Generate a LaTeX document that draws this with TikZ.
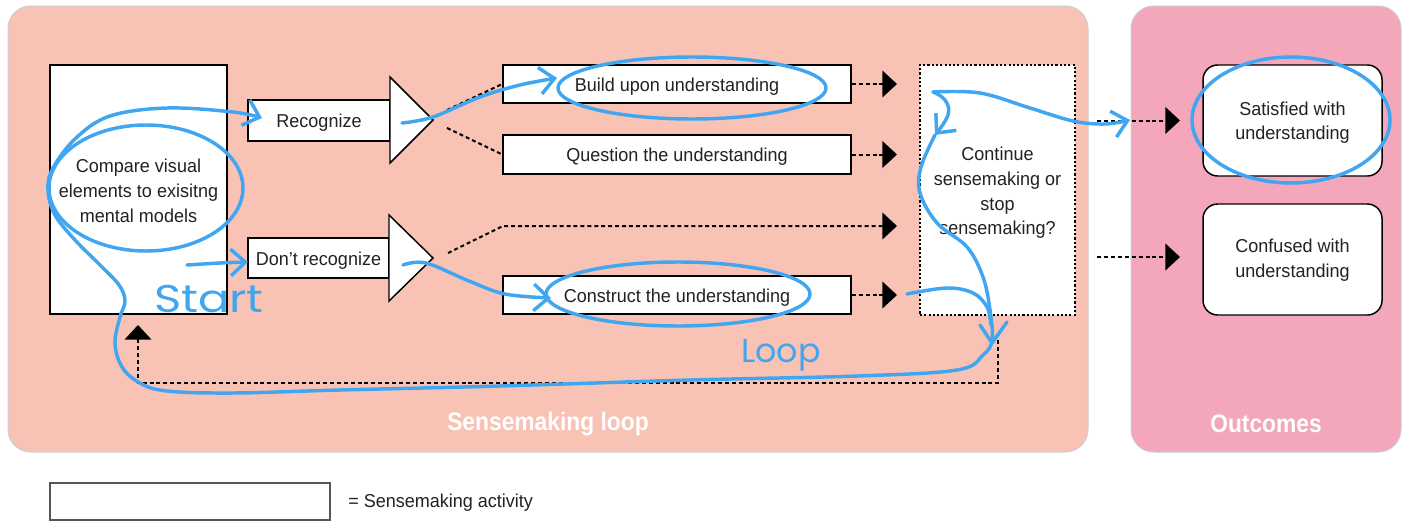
\documentclass[tikz,border=0pt]{standalone}
\usepackage{fontspec}
\setmainfont{Liberation Sans}[FakeStretch=0.965]
\newfontfamily\panelfont{Liberation Sans}[FakeStretch=0.9]
\newfontfamily\handfont{Poppins}
\usetikzlibrary{arrows.meta}
\definecolor{loopbg}{RGB}{248,195,181}
\definecolor{outbg}{RGB}{244,166,186}
\definecolor{pen}{RGB}{64,166,242}
\definecolor{ink}{RGB}{34,34,34}
\definecolor{panelline}{RGB}{205,205,205}
\definecolor{legendline}{RGB}{85,85,85}
% taller first line, so that a stacked text sits a little lower in its box
\newcommand\firstline[1]{\rule{0pt}{#1}}
\begin{document}
\begin{tikzpicture}[x=0.75pt,y=-0.75pt,
  font=\fontsize{14}{18.5}\selectfont,
  panel/.style={draw=panelline, line width=0.75pt, rounded corners=17pt},
  panellabel/.style={text=white, font=\panelfont\bfseries\fontsize{19}{22}\selectfont},
  activity/.style={draw=black, line width=1.1pt, fill=white, text=ink, inner sep=0pt, align=center,
    execute at begin node={\rule{0pt}{14pt}}},
  outcome/.style={activity, rounded corners=11pt},
  choice/.style={activity, line width=1.6pt, dash pattern=on 1.6pt off 1.6pt},
  splitter/.style={draw=black, line width=1.1pt, fill=white, line join=miter},
  link/.style={draw=black, line width=1.5pt, dash pattern=on 3pt off 2.2pt},
  flow/.style={link, -{Triangle[length=11pt,width=20pt]}},
  hand/.style={draw=pen, line width=2.6pt, line cap=round, line join=round},
  handtip/.style={hand, -{Straight Barb[length=11pt,width=20pt]}},
  handnote/.style={text=pen, inner sep=0pt}
]
\useasboundingbox (0,0) rectangle (1408,521);
\fill[white] (0,0) rectangle (1408,521);

% panels
\draw[panel, fill=loopbg] (8,6) rectangle (1088,452);
\draw[panel, fill=outbg] (1131,6) rectangle (1401,452);
\node[panellabel] (looplabel) at (548,424) {Sensemaking loop};
\node[panellabel] (outlabel) at (1266,424) {Outcomes};

% activities
\node[activity, minimum width=132.75pt, minimum height=186.75pt] (compare) at (138.5,189.5)
  {\firstline{12pt}Compare visual\\elements to exisitng\\mental models};
\node[activity, minimum width=106.5pt, minimum height=30.75pt] (recognize) at (319,120.5) {Recognize};
\node[activity, minimum width=105.75pt, minimum height=30pt] (dontrec) at (318.5,258) {Don't recognize};
\draw[splitter] (390,77) -- (433,120) -- (390,163) -- cycle;
\draw[splitter] (389,215) -- (433,258) -- (389,301) -- cycle;

\node[activity, minimum width=261pt, minimum height=28.5pt] (build) at (677,84) {Build upon understanding};
\node[activity, minimum width=261pt, minimum height=29.25pt] (question) at (677,154.5) {Question the understanding};
\node[activity, minimum width=261pt, minimum height=28.5pt] (construct) at (677,295) {Construct the understanding};

\node[choice, minimum width=116.25pt, minimum height=187.5pt] (decide) at (997.5,190)
  {\firstline{14.8pt}Continue\\sensemaking or\\stop\\sensemaking?};

\node[outcome, minimum width=134.25pt, minimum height=83.25pt] (satisfied) at (1292.5,120.5)
  {\firstline{13.3pt}Satisfied with\\understanding};
\node[outcome, minimum width=134.25pt, minimum height=83.25pt] (confused) at (1292.5,259.5)
  {\firstline{11pt}Confused with\\understanding};

% legend
\node[activity, draw=legendline, minimum width=210pt, minimum height=27.75pt] (legendbox) at (190,501.5) {};
\node[text=ink, anchor=west, inner sep=0pt] (legendtext) at (348,503) {= Sensemaking activity};

% free ends of the dashed connectors
\coordinate (headx) at (897,0);
\coordinate (rtipA) at (447,110);
\coordinate (rtipB) at (447,128);
\coordinate (dtip) at (448,253);
\coordinate (dbend) at (503,226);
\coordinate (dend) at (897,226);
\coordinate (sIn) at (1097,120.5);
\coordinate (sOut) at (1180,120.5);
\coordinate (cIn) at (1097,257);
\coordinate (cOut) at (1180,257);
\coordinate (lp1) at (998,340);
\coordinate (lp2) at (998,383);
\coordinate (lp3) at (138,383);
\coordinate (lp4) at (138,325);

\draw[link] (rtipA) -- (build.west);
\draw[link] (rtipB) -- (question.west);
\draw[flow] (dtip) -- (dbend) -- (dend);
\draw[flow] (build.east) -- (build.east -| headx);
\draw[flow] (question.east) -- (question.east -| headx);
\draw[flow] (construct.east) -- (construct.east -| headx);
\draw[flow] (sIn) -- (sOut);
\draw[flow] (cIn) -- (cOut);
\draw[flow] (lp1) -- (lp2) -- (lp3) -- (lp4);

% hand-drawn walkthrough
\draw[hand] (146,188) ellipse [x radius=72.75pt, y radius=47.25pt];
\draw[hand] (692,88) ellipse [x radius=100.5pt, y radius=23.25pt];
\draw[hand] (678,294) ellipse [x radius=99pt, y radius=24pt];
\draw[hand] (1291,120) ellipse [x radius=74.25pt, y radius=47.25pt];

\draw[handtip] plot[smooth, tension=0.6] coordinates {(402,123) (433,117) (480,97) (520,85) (557,78)};
\draw[handtip] plot[smooth, tension=0.6] coordinates {(403,265) (426,263) (469,281) (505,294) (551,298)};
\draw[handtip] plot[smooth, tension=0.6] coordinates {(187,265) (220,263) (248,262)};
\draw[hand] plot[smooth, tension=0.6] coordinates {(907,294) (947,288) (973,293) (987,307) (991,325)};
\draw[handtip] plot[smooth, tension=0.6] coordinates {(933,92) (980,93) (1030,108) (1073,121) (1105,124) (1130,120)};
\draw[handtip] plot[smooth, tension=0.7] coordinates {(933,92) (945,100) (948,115) (935,135)};
\draw[handtip] plot[smooth, tension=0.6] coordinates {
  (935,135) (921,167) (920,193) (937,223) (967,247) (983,277) (990,310) (992,340)
  (983,355) (957,370) (857,376) (690,380) (500,386) (340,390) (233,393) (167,391)
  (140,383) (122,367) (115,343) (120,317) (125,301) (119,285) (100,265) (75,240)
  (55,215) (48,190) (53,168) (76,138) (110,116) (167,108) (233,112) (262,118)};
\draw[hand] (980,325) -- (992,343) -- (1007,322);

\node[handnote, font=\handfont\fontsize{29}{30}\selectfont] (start) at (209,299) {\scalebox{1.2}[1]{Start}};
\node[handnote, font=\handfont\fontsize{25}{26}\selectfont] (loop) at (781,355) {Loop};
\end{tikzpicture}
\end{document}
